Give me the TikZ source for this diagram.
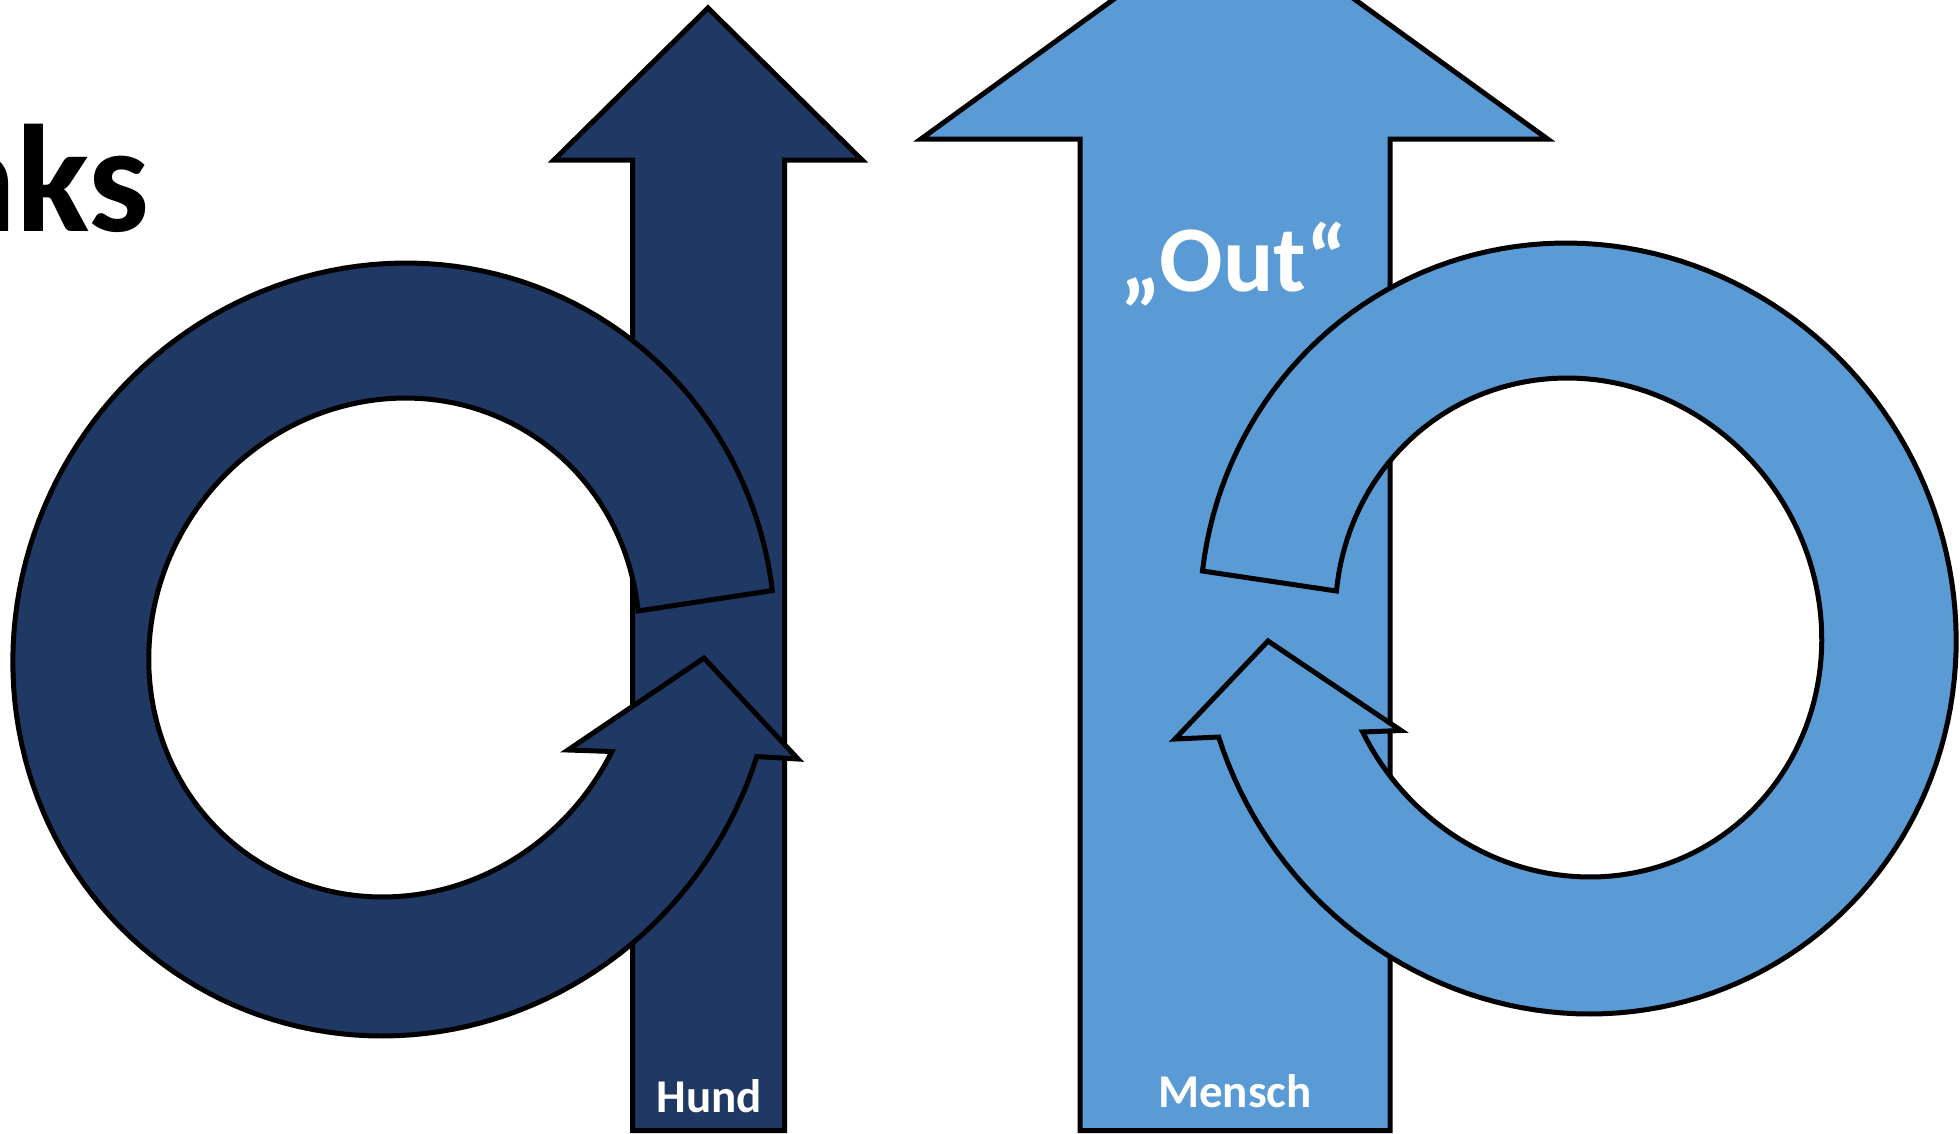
\documentclass[tikz,border=0pt]{standalone}
\usepackage{fontspec}
\setmainfont{Carlito}
\definecolor{navy}{HTML}{1F3864}
\definecolor{sky}{HTML}{5B9BD5}
\begin{document}
\begin{tikzpicture}[x=1pt,y=-1pt,
  outlined/.style={draw=black,line width=5pt,line join=miter},
  lbl/.style={text=white,inner sep=0pt,anchor=base,font=\bfseries\fontsize{47}{47}\selectfont}]
\useasboundingbox (0,0) rectangle (1960,1133);
\clip (0,0) rectangle (1960,1133);
% title fragment
\node[inner sep=0pt,anchor=base east,font=\bfseries\fontsize{153}{153}\selectfont] (title) at (150,231) {Links};
% dark straight arrow
\filldraw[outlined,fill=navy] (632.5,1130.5) -- (632.5,160) -- (554,160) -- (708,8) -- (862,160) -- (784.5,160) -- (784.5,1130.5) -- cycle;
% dark circular arrow
\filldraw[outlined,fill=navy]
  plot[domain=8.78:343.93,samples=160,variable=\t] ({394+381*cos(\t)+0.031*386.5*sin(\t)},{649.5-386.5*sin(\t)})
  -- (798,759) -- (704,658) -- (568,750)
  -- plot[domain=335.37:8.41,samples=160,variable=\t] ({394+245*cos(\t)+0.046*249.5*sin(\t)},{647.5-249.5*sin(\t)})
  -- cycle;
% light straight arrow
\filldraw[outlined,fill=sky] (1080,1130.5) -- (1080,139) -- (921,139) -- (1234,-88) -- (1547.5,139) -- (1390,139) -- (1390,1130.5) -- cycle;
% light circular arrow
\filldraw[outlined,fill=sky]
  plot[domain=171.42:-163.65,samples=160,variable=\t] ({1578+378*cos(\t)-0.031*385.5*sin(\t)},{628.5-385.5*sin(\t)})
  -- (1175,739) -- (1268,641) -- (1401,730.5)
  -- plot[domain=-155.24:171.59,samples=160,variable=\t] ({1578.5+243*cos(\t)-0.046*249.5*sin(\t)},{627.5-249.5*sin(\t)})
  -- cycle;
% labels
\node[lbl] (hund) at (709.5,1112.5) {Hund};
\node[lbl] (mensch) at (1235,1107.5) {Mensch};
\node[lbl,font=\bfseries\fontsize{94}{94}\selectfont] (out) at (1234,291) {„Out“};
\end{tikzpicture}
\end{document}
